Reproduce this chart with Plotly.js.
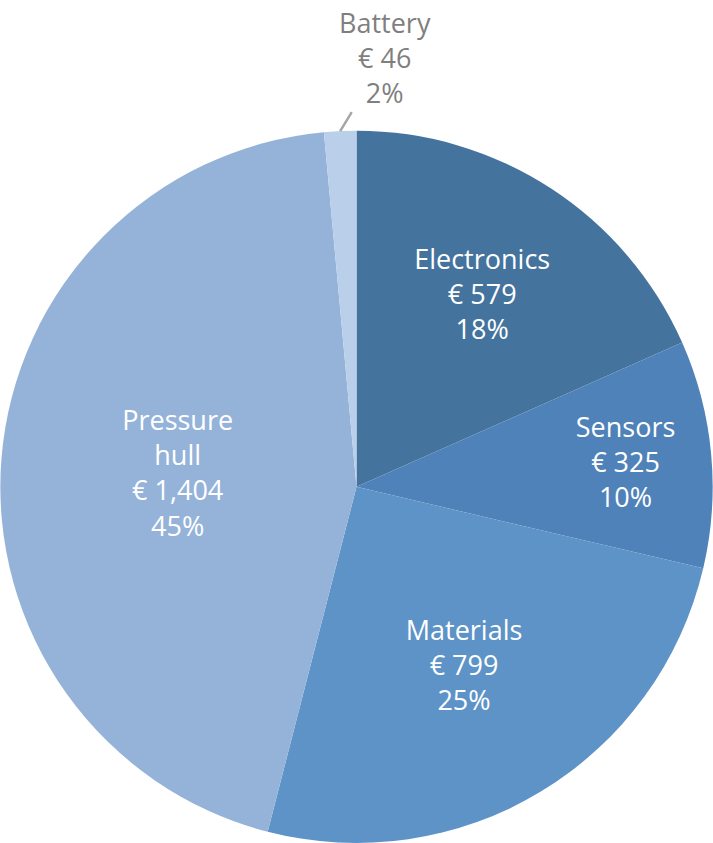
<!DOCTYPE html>
<html>
<head>
<meta charset="utf-8">
<script src="https://cdn.plot.ly/plotly-3.0.1.min.js"></script>
<style>html,body{margin:0;padding:0;background:#fff;}#chart{width:713px;height:843px;}</style>
</head>
<body>
<div id="chart"></div>
<script>
const categories = ['Electronics', 'Sensors', 'Materials', 'Pressure<br>hull', 'Battery'];
const costs = [579, 325, 799, 1404, 46];
const percentLabels = ['18%', '10%', '25%', '45%', '2%'];
const colors = ['#44739e', '#4f82b9', '#5d93c7', '#95b3d9', '#bacfea'];
const insideSlices = [true, true, true, true, false];

const W = 713, H = 843;
const FONT = 'Open Sans, sans-serif';
const FS = 27;
const domY = [0, 0.845];

const texts = costs.map((v, i) => '€ ' + v.toLocaleString('en-US') + '<br>' + percentLabels[i]);
const templates = insideSlices.map(b => b ? '%{label}<br>%{text}' : '');

const trace = {
  type: 'pie',
  labels: categories,
  values: costs,
  text: texts,
  texttemplate: templates,
  sort: false,
  direction: 'clockwise',
  rotation: 0,
  marker: {colors: colors, line: {width: 0}},
  textposition: 'inside',
  insidetextorientation: 'horizontal',
  insidetextfont: {family: FONT, size: FS, color: '#ffffff'},
  hoverinfo: 'none',
  domain: {x: [0, 1], y: domY},
  automargin: false
};

// Outside label for the small slice, anchored at its mid-angle on the rim
const total = costs.reduce((a, b) => a + b, 0);
const annotations = [];
let cum = 0;
costs.forEach((v, i) => {
  const mid = (cum + v / 2) / total * 2 * Math.PI;
  cum += v;
  if (insideSlices[i]) return;
  const cy = H * (1 - (domY[0] + domY[1]) / 2);
  const r = Math.min(W, H * (domY[1] - domY[0])) / 2;
  const tipX = W / 2 + r * Math.sin(mid);
  const tipY = cy - r * Math.cos(mid);
  annotations.push({
    xref: 'paper', yref: 'paper',
    x: tipX / W, y: 1 - tipY / H,
    text: categories[i] + '<br>' + texts[i],
    showarrow: true, arrowhead: 0, arrowwidth: 2.5, arrowcolor: '#a6a6a6',
    ax: 45, ay: -74,
    font: {family: FONT, size: FS, color: '#7f7f7f'}
  });
});

Plotly.newPlot('chart', [trace], {
  width: W, height: H,
  margin: {l: 0, r: 0, t: 0, b: 0},
  showlegend: false,
  paper_bgcolor: '#ffffff',
  annotations: annotations
}, {displayModeBar: false, staticPlot: true});
</script>
</body>
</html>
